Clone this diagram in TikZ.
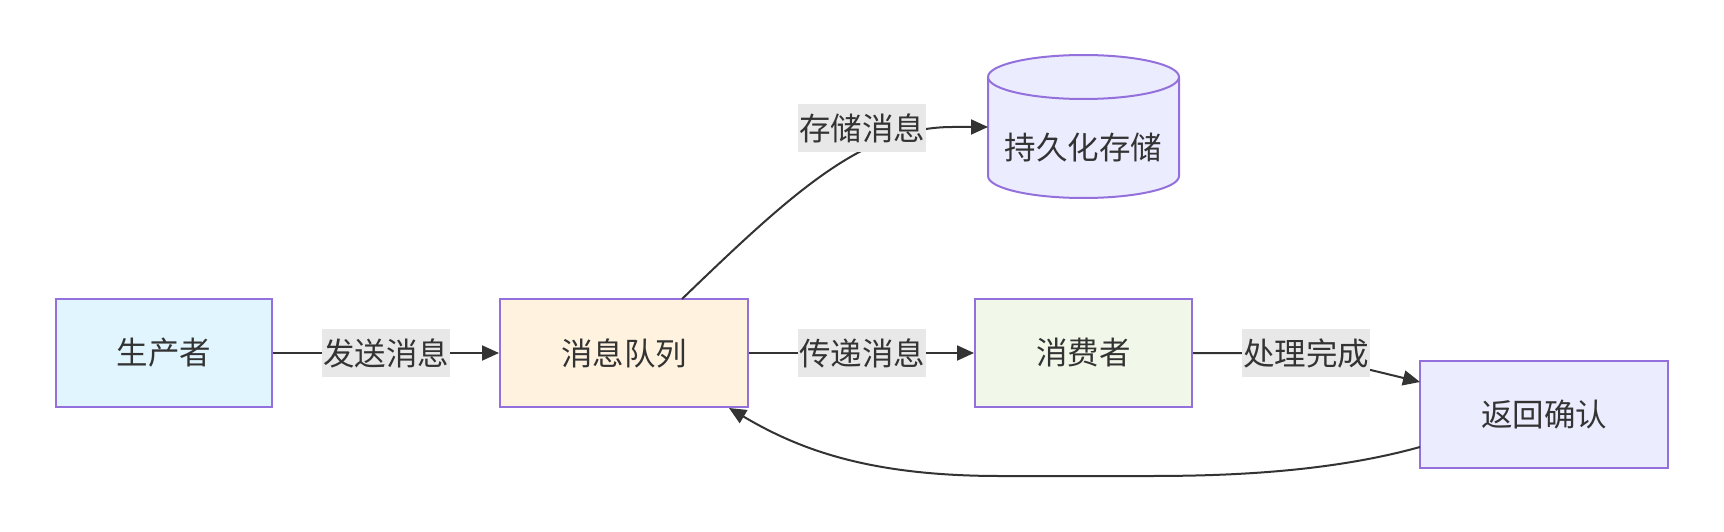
\documentclass[tikz,border=0pt]{standalone}
\usepackage{fontspec}
\setmainfont{Noto Sans CJK SC}
\usetikzlibrary{arrows.meta}
\definecolor{txt}{HTML}{333333}
\definecolor{edge}{HTML}{333333}
\definecolor{bord}{HTML}{9370DB}
\definecolor{fprod}{HTML}{E1F5FE}
\definecolor{fqueue}{HTML}{FFF3E0}
\definecolor{fcons}{HTML}{F1F8E9}
\definecolor{fdef}{HTML}{ECECFF}
\definecolor{lblbg}{HTML}{E8E8E8}
\tikzset{
  box/.style={draw=bord, line width=2pt, minimum height=108pt, inner sep=0pt, text=txt, font=\fontsize{31.5}{37}\selectfont},
  lbl/.style={fill=lblbg, inner xsep=1pt, inner ysep=0pt, minimum height=48pt, text=txt, font=\fontsize{31.5}{37}\selectfont},
  conn/.style={draw=edge, line width=2pt, -{Triangle[length=17pt,width=15pt]}},
  plain/.style={draw=edge, line width=2pt}
}
\begin{document}
\begin{tikzpicture}[x=1pt,y=-1pt]
\useasboundingbox (0,0) rectangle (1724,532);
% nodes
\node[box, fill=fprod, minimum width=216pt] (prod) at (164,353) {生产者};
\node[box, fill=fqueue, minimum width=248pt] (queue) at (624,353) {消息队列};
\node[box, fill=fcons, minimum width=217pt] (cons) at (1083.5,353) {消费者};
\node[box, fill=fdef, minimum width=248pt, minimum height=107pt] (ack) at (1544,414.5) {返回确认};
% cylinder
\fill[fdef] (988,77) rectangle (1179,176);
\fill[fdef] (1083.5,176) ellipse [x radius=95.5pt, y radius=22pt];
\draw[bord, line width=2pt] (988,77) -- (988,176) arc[start angle=180, end angle=360, x radius=95.5pt, y radius=22pt] -- (1179,77);
\draw[bord, line width=2pt, fill=fdef] (1083.5,77) ellipse [x radius=95.5pt, y radius=22pt];
\node[text=txt, font=\fontsize{31.5}{37}\selectfont] (store) at (1083.5,148) {持久化存储};
\coordinate (storein) at (988,127);
\coordinate (qtop) at (682,299);
\coordinate (qbot) at (729,408);
\coordinate (ackin) at (1420,382);
\coordinate (ackout) at (1420,447);
% edges
\draw[conn] (prod.east) -- (queue.west);
\draw[conn] (queue.east) -- (cons.west);
\draw[conn] (qtop) .. controls (795,190) and (865,126) .. (955,127) -- (storein);
\draw[conn] (cons.east) -- (1250,353) .. controls (1300,353) and (1330,360) .. (ackin);
\draw[conn] (ackout) .. controls (1330,472) and (1230,476) .. (1150,476) -- (1000,476) .. controls (870,476) and (800,450) .. (qbot);
% labels
\node[lbl] (l1) at (386,353) {发送消息};
\node[lbl] (l2) at (862,353) {传递消息};
\node[lbl] (l3) at (862,128) {存储消息};
\node[lbl] (l4) at (1306,353) {处理完成};
\end{tikzpicture}
\end{document}
